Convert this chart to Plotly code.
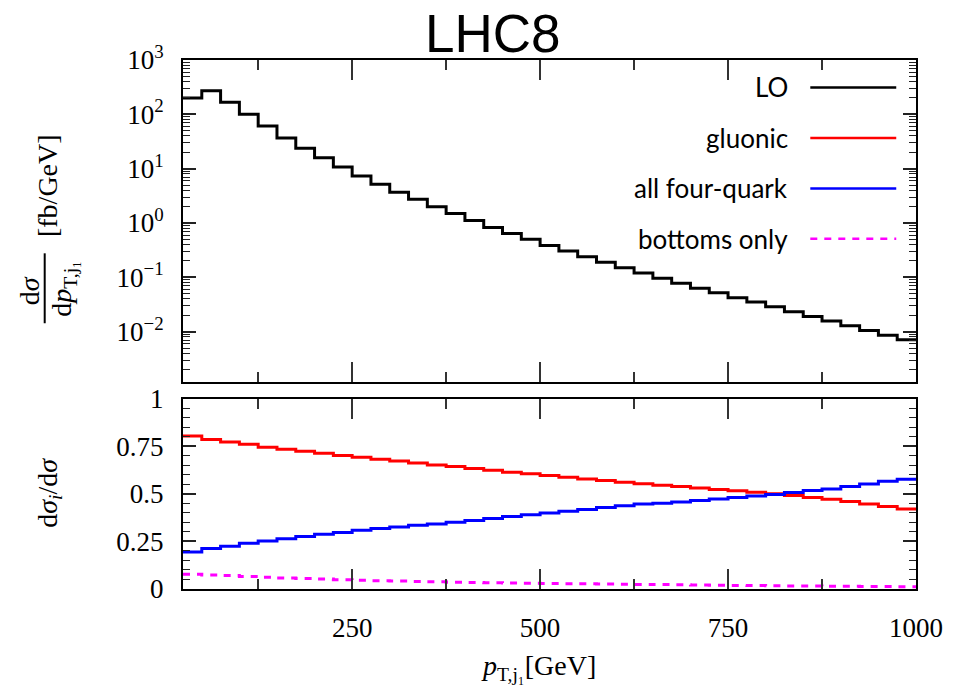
import plotly.graph_objects as go

# Leading-jet transverse momentum bins (GeV), 25 GeV wide
BIN_EDGES = [25, 50, 75, 100, 125, 150, 175, 200, 225, 250, 275, 300, 325, 350,
             375, 400, 425, 450, 475, 500, 525, 550, 575, 600, 625, 650, 675, 700,
             725, 750, 775, 800, 825, 850, 875, 900, 925, 950, 975, 1000]

# LO differential cross section dsigma/dpT (fb/GeV), one value per bin
LO_XSEC = [200, 273, 167, 100, 61, 36.6, 23.7, 15.8, 10.7, 7.3, 5.17, 3.7, 2.73,
           2.0, 1.49, 1.11, 0.83, 0.64, 0.50, 0.386, 0.304, 0.24, 0.19, 0.150,
           0.12, 0.096, 0.078, 0.063, 0.052, 0.042, 0.035, 0.0288, 0.0233, 0.0191,
           0.0157, 0.0128, 0.0105, 0.0086, 0.0071]

# Fractional contributions dsigma_i/dsigma
GLUONIC = [0.804, 0.785, 0.772, 0.760, 0.745, 0.734, 0.724, 0.713, 0.701, 0.692,
           0.682, 0.673, 0.662, 0.652, 0.643, 0.633, 0.624, 0.614, 0.605, 0.596,
           0.587, 0.578, 0.570, 0.561, 0.553, 0.545, 0.539, 0.531, 0.523, 0.516,
           0.509, 0.500, 0.491, 0.481, 0.472, 0.460, 0.447, 0.434, 0.421]
FOUR_QUARK = [0.194, 0.213, 0.225, 0.240, 0.252, 0.264, 0.276, 0.288, 0.297, 0.309,
              0.318, 0.326, 0.335, 0.342, 0.351, 0.360, 0.371, 0.381, 0.390, 0.399,
              0.409, 0.418, 0.428, 0.437, 0.446, 0.450, 0.457, 0.465, 0.473, 0.481,
              0.489, 0.497, 0.507, 0.517, 0.526, 0.539, 0.552, 0.566, 0.577]
BOTTOMS = [0.078, 0.074, 0.071, 0.066, 0.062, 0.058, 0.055, 0.052, 0.049, 0.046,
           0.044, 0.042, 0.040, 0.038, 0.036, 0.034, 0.033, 0.031, 0.030, 0.029,
           0.028, 0.027, 0.026, 0.025, 0.024, 0.023, 0.022, 0.021, 0.020, 0.019,
           0.018, 0.017, 0.016, 0.016, 0.015, 0.014, 0.013, 0.013, 0.012]

SERIES = [
    ("gluonic", GLUONIC, "#ff0000", "solid"),
    ("all four-quark", FOUR_QUARK, "#0000ff", "solid"),
    ("bottoms only", BOTTOMS, "#ff00ff", "7px,7px"),
]

LOG_TICKS = [0.01, 0.1, 1, 10, 100, 1000]
LOG_TICKTEXT = ["10<sup>−2</sup>", "10<sup>−1</sup>", "10<sup>0</sup>",
                "10<sup>1</sup>", "10<sup>2</sup>", "10<sup>3</sup>"]
RATIO_TICKS = [0, 0.25, 0.5, 0.75, 1]
RATIO_TICKTEXT = ["0", "0.25", "0.5", "0.75", "1"]
X_TICKS = [250, 500, 750, 1000]

# Page geometry (pixels)
W, H = 955, 691
PL, PR, PT, PB = 183, 925, 59.5, 589
TOP_PANEL_BOTTOM = 382
LOW_PANEL_TOP = 398.5


def fx(px):
    return (px - PL) / (PR - PL)


def fy(py):
    return (PB - py) / (PB - PT)


def steps(values):
    # repeat the last value so the final bin closes at the upper edge
    return values + [values[-1]]


SERIF = "Liberation Serif"
SANS = "Lato"
TICK_FONT = dict(family=SERIF, size=27, color="black")

fig = go.Figure()

fig.add_trace(go.Scatter(
    x=BIN_EDGES, y=steps(LO_XSEC), mode="lines", line_shape="hv",
    line=dict(color="black", width=3), name="LO", xaxis="x2", yaxis="y"))

for name, vals, color, dash in SERIES:
    fig.add_trace(go.Scatter(
        x=BIN_EDGES, y=steps(vals), mode="lines", line_shape="hv",
        line=dict(color=color, width=3, dash=dash), name=name,
        xaxis="x", yaxis="y2"))

minor_log = [m * 10 ** e for e in range(-3, 3) for m in range(2, 10)]
minor_log = [v for v in minor_log if 10 ** -2.93 <= v <= 1000]

common_x = dict(
    range=[25, 1000], showline=True, linecolor="black", linewidth=2,
    mirror="allticks", ticks="inside", ticklen=20, tickwidth=1.5,
    tickcolor="#333", tickmode="array", tickvals=X_TICKS, showgrid=False,
    zeroline=False,
    minor=dict(tickvals=[125, 375, 625, 875], ticks="inside", ticklen=10,
               tickwidth=1.5, tickcolor="#333"),
)

fig.update_layout(
    width=W, height=H, autosize=False,
    margin=dict(l=PL, r=W - PR, t=PT, b=H - PB),
    paper_bgcolor="white", plot_bgcolor="white",
    showlegend=False,
    xaxis=dict(**common_x, anchor="y2", domain=[0, 1],
               ticktext=["250", "500", "750", "1000"], tickfont=TICK_FONT,
               ticklabelstandoff=14),
    xaxis2=dict(**common_x, anchor="y", domain=[0, 1], matches="x",
                showticklabels=False),
    yaxis=dict(type="log", range=[-2.93, 3.0], anchor="x2",
               domain=[fy(TOP_PANEL_BOTTOM), 1],
               showline=True, linecolor="black", linewidth=2, mirror="allticks",
               ticks="inside", ticklen=13, tickwidth=1.5, tickcolor="#222",
               tickmode="array", tickvals=LOG_TICKS, ticktext=LOG_TICKTEXT,
               tickfont=TICK_FONT, showgrid=False, ticklabelstandoff=12,
               minor=dict(tickvals=minor_log, ticks="inside", ticklen=7,
                          tickwidth=1.2, tickcolor="#222")),
    yaxis2=dict(range=[0, 1], anchor="x", domain=[0, fy(LOW_PANEL_TOP)],
                showline=True, linecolor="black", linewidth=2, mirror="allticks",
                ticks="inside", ticklen=13, tickwidth=1.5, tickcolor="#222",
                tickmode="array", tickvals=RATIO_TICKS, ticktext=RATIO_TICKTEXT,
                tickfont=TICK_FONT, showgrid=False, zeroline=False,
                ticklabelstandoff=12,
                minor=dict(dtick=0.05, tick0=0, ticks="inside", ticklen=7,
                           tickwidth=1.2, tickcolor="#222")),
)

ann = []
shapes = []

# Title
ann.append(dict(text="LHC8", x=fx(497), y=fy(33), xref="paper", yref="paper",
                showarrow=False, xanchor="center", yanchor="middle",
                font=dict(family="Liberation Sans", size=53, color="black")))

# Legend: right-aligned labels with line samples to their right
legend_rows = [("LO", "black", "solid", 87)] + [
    (name, color, dash, py) for (name, _, color, dash), py in zip(SERIES, [137.5, 188, 238.5])]
for label, color, dash, py in legend_rows:
    ann.append(dict(text=label, x=fx(797), y=fy(py), xref="paper", yref="paper",
                    showarrow=False, xanchor="right", yanchor="middle",
                    font=dict(family=SANS, size=26, color="black")))
    shapes.append(dict(type="line", xref="paper", yref="paper",
                       x0=fx(818), x1=fx(905), y0=fy(py), y1=fy(py),
                       line=dict(color=color, width=2.5, dash=dash)))

# Upper y-axis title: dsigma / dpT [fb/GeV] as a rotated fraction
ax_font = dict(family=SERIF, size=28, color="black")
ann.append(dict(text="d<i>σ</i>", x=fx(27), y=fy(290), xref="paper", yref="paper",
                showarrow=False, textangle=-90, xanchor="center", yanchor="middle",
                font=ax_font))
ann.append(dict(text="d<i>p</i><sub>T,j₁</sub>", x=fx(62), y=fy(288), xref="paper",
                yref="paper", showarrow=False, textangle=-90, xanchor="center",
                yanchor="middle", font=ax_font))
shapes.append(dict(type="line", xref="paper", yref="paper",
                   x0=fx(43), x1=fx(43), y0=fy(253), y1=fy(323),
                   line=dict(color="black", width=2)))
ann.append(dict(text="[fb/GeV]", x=fx(46), y=fy(185), xref="paper", yref="paper",
                showarrow=False, textangle=-90, xanchor="center", yanchor="middle",
                font=ax_font))

# Lower y-axis title
ann.append(dict(text="d<i>σ</i><sub><i>i</i></sub>/d<i>σ</i>", x=fx(47), y=fy(493),
                xref="paper", yref="paper", showarrow=False, textangle=-90,
                xanchor="center", yanchor="middle", font=ax_font))

# x-axis title
ann.append(dict(text="<i>p</i><sub>T,j₁</sub>[GeV]", x=fx(543), y=fy(668),
                xref="paper", yref="paper", showarrow=False, xanchor="center",
                yanchor="middle", font=ax_font))

fig.update_layout(annotations=ann, shapes=shapes)

fig.write_html("out.html", config={"responsive": False})
